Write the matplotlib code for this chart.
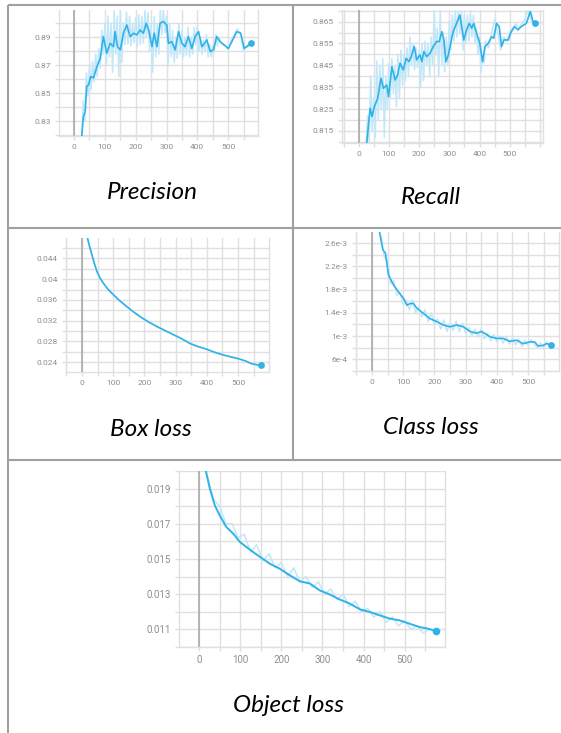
import matplotlib
matplotlib.use("Agg")
import matplotlib.pyplot as plt
from matplotlib.ticker import MultipleLocator, FixedLocator, FixedFormatter

W, H = 561, 733

# ---- data (smoothed line + raw light line) ----
prec_x = [25, 30, 36, 41, 47, 54, 63, 74, 85, 95, 106, 117, 128, 133, 141, 150, 160, 171, 182, 193,
          204, 214, 225, 234, 242, 253, 260, 269, 279, 290, 301, 306, 317, 328, 339, 350, 360, 371,
          382, 393, 404, 415, 431, 442, 452, 463, 474, 501, 512, 528, 541, 552, 561, 574]
prec_y = [0.8195, 0.8333, 0.837, 0.855, 0.856, 0.862, 0.861, 0.869, 0.875, 0.8905, 0.8786, 0.8857,
          0.8833, 0.894, 0.8833, 0.881, 0.8929, 0.8988, 0.8905, 0.8929, 0.8917, 0.8952, 0.8929, 0.900,
          0.8952, 0.8833, 0.8929, 0.8833, 0.900, 0.9012, 0.8988, 0.8857, 0.8869, 0.881, 0.894, 0.8857,
          0.8833, 0.8905, 0.8821, 0.8905, 0.894, 0.8833, 0.8881, 0.8798, 0.881, 0.8905, 0.8869, 0.8821,
          0.8869, 0.894, 0.8929, 0.8821, 0.8833, 0.8857]
prec_raw_x = list(range(25, 475, 5)) + [480, 490, 500, 510, 520, 530, 540, 550, 560, 574]
prec_raw_y = [0.82, 0.845, 0.83, 0.865, 0.848, 0.87, 0.852, 0.873, 0.858, 0.878, 0.862, 0.882, 0.868,
              0.895, 0.878, 0.9, 0.87, 0.905, 0.876, 0.9, 0.865, 0.91, 0.878, 0.905, 0.862, 0.91, 0.872,
              0.9, 0.885, 0.908, 0.885, 0.905, 0.884, 0.9, 0.886, 0.904, 0.884, 0.906, 0.885, 0.905,
              0.886, 0.91, 0.89, 0.908, 0.88, 0.9, 0.865, 0.905, 0.876, 0.9, 0.878, 0.91, 0.892, 0.91,
              0.893, 0.905, 0.87, 0.9, 0.876, 0.895, 0.872, 0.89, 0.875, 0.9, 0.878, 0.895, 0.876, 0.89,
              0.877, 0.897, 0.876, 0.89, 0.878, 0.897, 0.885, 0.898, 0.88, 0.89, 0.878, 0.888, 0.88,
              0.892, 0.876, 0.885, 0.876, 0.884, 0.879, 0.892, 0.884, 0.89,
              0.885, 0.884, 0.881, 0.888, 0.892, 0.896, 0.893, 0.88, 0.884, 0.886]

rec_x = [27, 33, 38, 44, 52, 63, 74, 82, 93, 99, 110, 121, 129, 137, 148, 157, 167, 176, 184, 192,
         203, 209, 216, 225, 236, 247, 258, 267, 275, 282, 289, 297, 308, 313, 324, 335, 341, 348, 357,
         366, 374, 381, 390, 401, 410, 418, 429, 440, 447, 456, 465, 473, 481, 495, 505, 516, 527, 538,
         555, 568, 577, 582]
rec_y = [0.8094, 0.8185, 0.8254, 0.8216, 0.8261, 0.8299, 0.8391, 0.8345, 0.836, 0.8307, 0.8444, 0.8383,
         0.8406, 0.846, 0.8429, 0.8482, 0.8467, 0.8498, 0.8536, 0.8475, 0.8498, 0.8467, 0.8513, 0.849,
         0.8505, 0.8536, 0.8559, 0.8559, 0.8604, 0.8566, 0.8467, 0.8498, 0.8574, 0.8604, 0.8642, 0.868,
         0.8627, 0.8566, 0.8612, 0.8642, 0.862, 0.8642, 0.8597, 0.8551, 0.8467, 0.8536, 0.8551, 0.8581,
         0.8574, 0.8642, 0.8627, 0.8536, 0.8566, 0.8566, 0.8604, 0.8627, 0.8612, 0.8627, 0.8642, 0.8696,
         0.865, 0.8645]
rec_raw_x = list(range(25, 420, 5)) + list(range(420, 590, 10))
rec_raw_y = [0.81, 0.822, 0.81, 0.84, 0.815, 0.83, 0.812, 0.847, 0.82, 0.845, 0.825, 0.848, 0.812, 0.84,
             0.825, 0.846, 0.83, 0.848, 0.832, 0.845, 0.826, 0.85, 0.83, 0.852, 0.836, 0.85, 0.838, 0.853,
             0.84, 0.858, 0.845, 0.855, 0.843, 0.853, 0.844, 0.852, 0.835, 0.855, 0.838, 0.856, 0.845,
             0.855, 0.84, 0.858, 0.845, 0.87, 0.85, 0.862, 0.84, 0.87, 0.845, 0.86, 0.842, 0.858, 0.845,
             0.865, 0.852, 0.868, 0.856, 0.87, 0.858, 0.87, 0.86, 0.87, 0.852, 0.868, 0.855, 0.868, 0.856,
             0.87, 0.858, 0.868, 0.855, 0.862, 0.85, 0.858, 0.842, 0.85, 0.846,
             0.856, 0.853, 0.86, 0.866, 0.86, 0.852, 0.858, 0.856, 0.86, 0.862, 0.864, 0.862, 0.864,
             0.866, 0.87, 0.866, 0.864]

box_x = [18, 25, 32, 40, 48, 58, 69, 84, 101, 120, 144, 165, 186, 212, 239, 266, 293, 320, 346, 372,
         399, 425, 452, 478, 505, 525, 543, 560, 574]
box_y = [0.0479, 0.0462, 0.0447, 0.0430, 0.0415, 0.0402, 0.0392, 0.0380, 0.0370, 0.0359, 0.0347,
         0.0337, 0.0328, 0.0318, 0.0309, 0.0301, 0.0293, 0.0285, 0.0276, 0.0270, 0.0265, 0.0259,
         0.0254, 0.0250, 0.0246, 0.0242, 0.0237, 0.0235, 0.0234]

cls_x = [24, 35, 43, 53, 69, 85, 101, 112, 122, 133, 144, 165, 186, 207, 229, 250, 271, 293, 314, 335,
         351, 378, 399, 420, 441, 463, 484, 505, 521, 532, 548, 559, 574]
cls_y = [2.8e-3, 2.485e-3, 2.43e-3, 2.05e-3, 1.88e-3, 1.76e-3, 1.65e-3, 1.53e-3, 1.56e-3, 1.56e-3,
         1.48e-3, 1.39e-3, 1.30e-3, 1.25e-3, 1.19e-3, 1.16e-3, 1.19e-3, 1.16e-3, 1.08e-3, 1.05e-3,
         1.08e-3, 0.99e-3, 0.96e-3, 0.96e-3, 0.91e-3, 0.93e-3, 0.87e-3, 0.90e-3, 0.90e-3, 0.83e-3,
         0.84e-3, 0.87e-3, 0.85e-3]
cls_raw_x = list(range(30, 580, 10))
cls_raw_y = [2.7e-3, 2.35e-3, 2.3e-3, 1.9e-3, 1.95e-3, 1.7e-3, 1.75e-3, 1.55e-3, 1.62e-3, 1.45e-3,
             1.62e-3, 1.4e-3, 1.5e-3, 1.33e-3, 1.45e-3, 1.25e-3, 1.4e-3, 1.2e-3, 1.3e-3, 1.12e-3,
             1.28e-3, 1.08e-3, 1.22e-3, 1.1e-3, 1.25e-3, 1.08e-3, 1.22e-3, 1.05e-3, 1.15e-3, 1.0e-3,
             1.12e-3, 0.98e-3, 1.12e-3, 0.95e-3, 1.05e-3, 0.92e-3, 1.03e-3, 0.9e-3, 1.0e-3, 0.88e-3,
             1.0e-3, 0.86e-3, 0.97e-3, 0.85e-3, 0.95e-3, 0.82e-3, 0.93e-3, 0.84e-3, 0.94e-3, 0.86e-3,
             0.8e-3, 0.88e-3, 0.8e-3, 0.9e-3, 0.82e-3]

obj_x = [16, 26, 38, 50, 66, 83, 99, 115, 131, 148, 172, 196, 220, 245, 269, 293, 318, 342, 366, 391,
         415, 439, 464, 488, 512, 537, 557, 575]
obj_y = [0.02004, 0.0190, 0.01805, 0.01748, 0.01682, 0.01644, 0.01597, 0.01568, 0.0154, 0.01512,
         0.01473, 0.01445, 0.01408, 0.01373, 0.01361, 0.01322, 0.01298, 0.0127, 0.01247, 0.01214,
         0.01199, 0.0118, 0.01161, 0.01151, 0.01132, 0.01113, 0.01104, 0.01091]
obj_raw_x = list(range(20, 580, 15))
obj_raw_y = [0.0197, 0.0184, 0.0180, 0.0170, 0.0170, 0.0162, 0.0164, 0.0154, 0.0158, 0.0149, 0.0153,
             0.0145, 0.0148, 0.0140, 0.0145, 0.0137, 0.0140, 0.0134, 0.0137, 0.0130, 0.0133, 0.0127,
             0.0130, 0.0123, 0.0126, 0.0120, 0.0122, 0.0117, 0.0120, 0.0114, 0.0117, 0.0112, 0.0115,
             0.0110, 0.0112, 0.0108, 0.0110, 0.0109]

prec_ticks = [0.83, 0.85, 0.87, 0.89]
prec_labels = ["0.83", "0.85", "0.87", "0.89"]
rec_ticks = [0.815, 0.825, 0.835, 0.845, 0.855, 0.865]
rec_labels = ["0.815", "0.825", "0.835", "0.845", "0.855", "0.865"]
box_ticks = [0.024, 0.028, 0.032, 0.036, 0.040, 0.044]
box_labels = ["0.024", "0.028", "0.032", "0.036", "0.04", "0.044"]
cls_ticks = [6e-4, 1e-3, 1.4e-3, 1.8e-3, 2.2e-3, 2.6e-3]
cls_labels = ["6e-4", "1e-3", "1.4e-3", "1.8e-3", "2.2e-3", "2.6e-3"]
obj_ticks = [0.011, 0.013, 0.015, 0.017, 0.019]
obj_labels = ["0.011", "0.013", "0.015", "0.017", "0.019"]
x_ticks = [0, 100, 200, 300, 400, 500]

LINE = "#2fb2e8"
RAW = "#c2e7f8"
GRID = "#e0e0e0"
TICK = "#8e8e8e"
BORDER = "#a0a0a0"

fig = plt.figure(figsize=(W / 100, H / 100), dpi=100)


def px_axes(x0, y0, x1, y1):
    return fig.add_axes([x0 / W, 1 - y1 / H, (x1 - x0) / W, (y1 - y0) / H])


def panel(rect, x, y, rx, ry, xlim, ylim, yt, yl, ystep, fs, lw):
    ax = px_axes(*rect)
    if rx is not None:
        ax.plot(rx, ry, color=RAW, lw=1.1, zorder=2)
    ax.plot(x, y, color=LINE, lw=lw, zorder=3, solid_joinstyle="round")
    ax.plot(x[-1], y[-1], "o", color=LINE, ms=lw * 3.2, zorder=4)
    ax.axvline(0, color="#a4a4a4", lw=1.1, zorder=1)
    ax.set_xlim(*xlim)
    ax.set_ylim(*ylim)
    ax.xaxis.set_major_locator(FixedLocator(x_ticks))
    ax.xaxis.set_minor_locator(MultipleLocator(50))
    ax.yaxis.set_major_locator(FixedLocator(yt))
    ax.yaxis.set_major_formatter(FixedFormatter(yl))
    ax.yaxis.set_minor_locator(MultipleLocator(ystep))
    ax.grid(True, which="both", color=GRID, lw=1.0, zorder=0)
    ax.tick_params(which="both", length=3, width=1.0, color=GRID, labelcolor=TICK,
                   labelsize=fs, pad=3)
    for lab in ax.get_xticklabels() + ax.get_yticklabels():
        lab.set_family("Roboto")
    ax.spines["top"].set_visible(False)
    for s in ("left", "right", "bottom"):
        ax.spines[s].set_color(GRID)
        ax.spines[s].set_linewidth(1.0)
    ax.set_axisbelow(True)
    return ax


panel((59, 10, 258, 136), prec_x, prec_y, prec_raw_x, prec_raw_y, (-49, 597), (0.8195, 0.9095),
      prec_ticks, prec_labels, 0.01, 6, 1.2)
panel((342, 10, 543, 143), rec_x, rec_y, rec_raw_x, rec_raw_y, (-55, 610), (0.8095, 0.8703),
      rec_ticks, rec_labels, 0.005, 6, 1.2)
panel((66, 238, 269, 372), box_x, box_y, box_x, box_y, (-51, 599), (0.0221, 0.04795),
      box_ticks, box_labels, 0.002, 6, 1.2)
panel((356, 232, 559, 371), cls_x, cls_y, cls_raw_x, cls_raw_y, (-51, 599), (4e-4, 2.79e-3),
      cls_ticks, cls_labels, 2e-4, 6, 1.2)
panel((179, 471, 445, 647), obj_x, obj_y, obj_raw_x, obj_raw_y, (-49, 598), (0.0100, 0.0200),
      obj_ticks, obj_labels, 0.001, 7, 1.4)

# table borders
bg = fig.add_axes([0, 0, 1, 1], zorder=-1)
bg.set_xlim(0, W)
bg.set_ylim(H, 0)
bg.axis("off")
bkw = dict(color=BORDER, lw=1.5, solid_capstyle="butt")
bg.plot([8, W], [5, 5], **bkw)
bg.plot([8, W], [228, 228], **bkw)
bg.plot([8, W], [459.5, 459.5], **bkw)
bg.plot([8, 8], [5, H], **bkw)
bg.plot([293.5, 293.5], [5, 459.5], **bkw)

titles = [("Precision", 152, 199), ("Recall", 431, 204), ("Box loss", 151, 436.5),
          ("Class loss", 431, 434), ("Object loss", 288, 711.5)]
for t, cx, by in titles:
    fig.text(cx / W, 1 - by / H, t, ha="center", va="baseline", fontsize=17.5,
             style="italic", family="Lato", color="black")

fig.savefig("out.png", dpi=100)
